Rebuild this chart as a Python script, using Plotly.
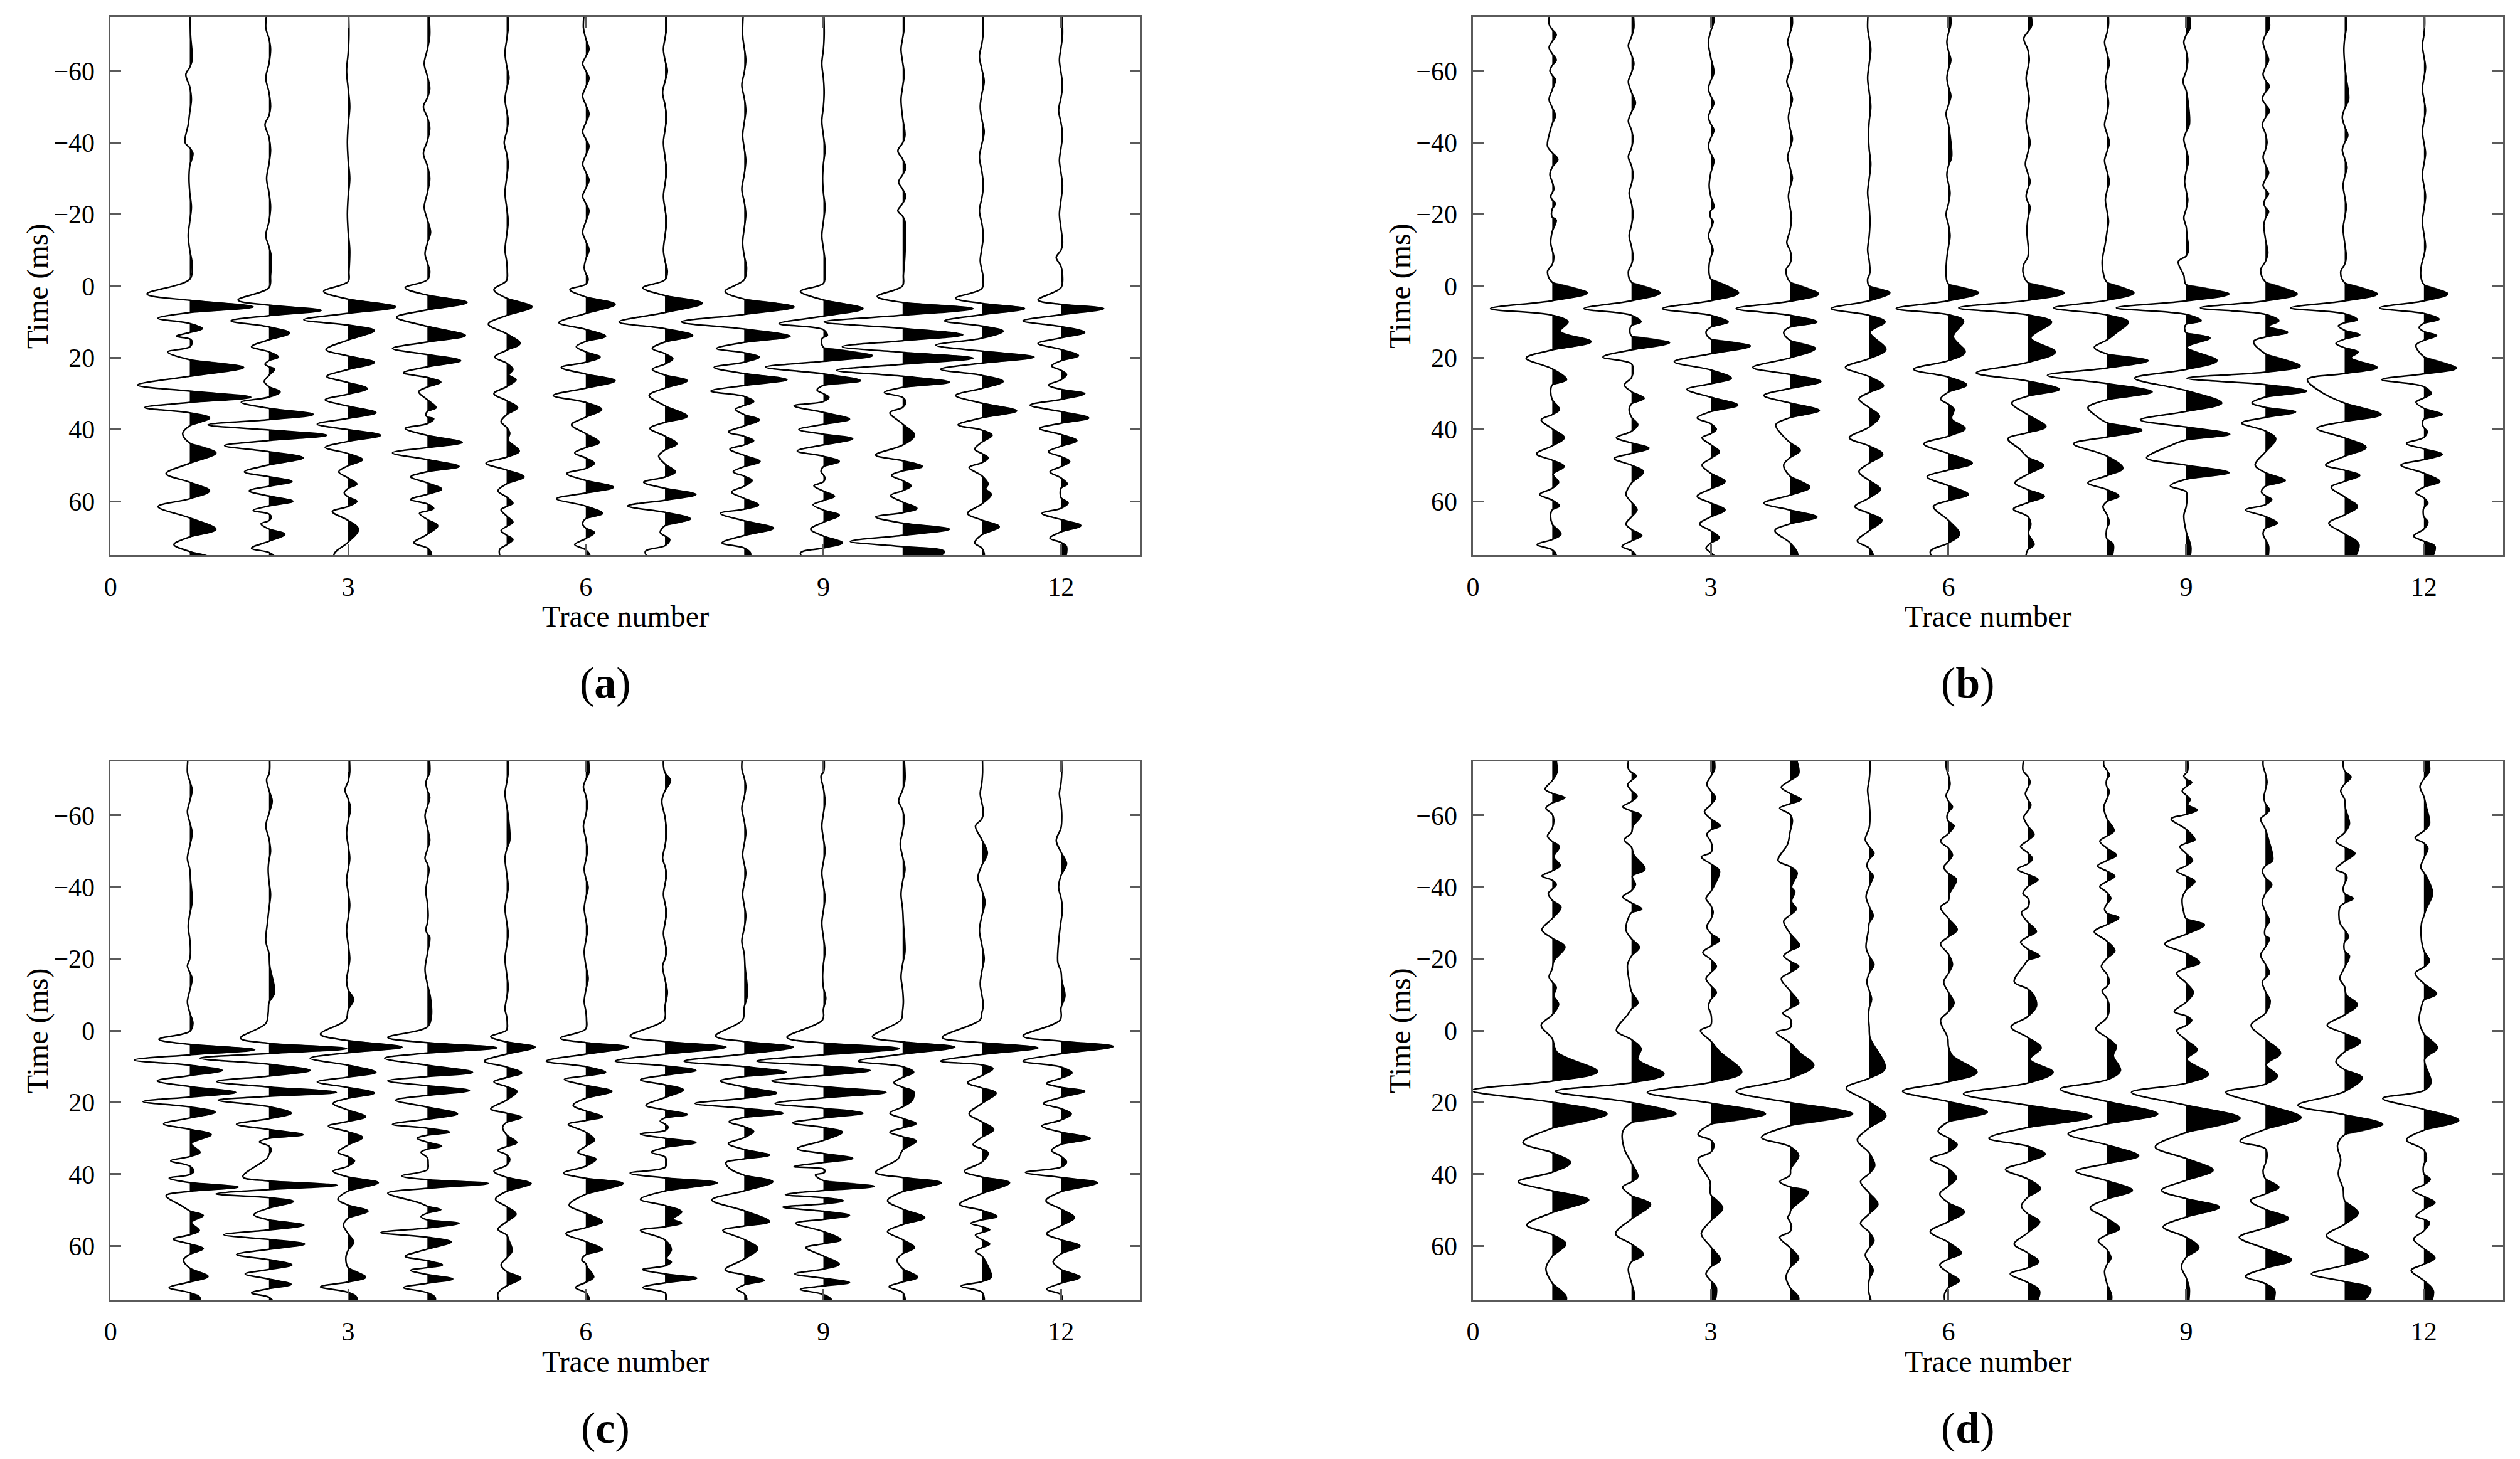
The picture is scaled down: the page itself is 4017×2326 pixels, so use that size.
import plotly.graph_objects as go

# ==== Data read off the wiggle sections ====
# every trace is a list of (time in ms, amplitude in trace units) extrema

trace_numbers = list(range(1, 13))
x_ticks = [0, 3, 6, 9, 12]
time_ticks = [-60, -40, -20, 0, 20, 40, 60]
panel_labels = ["a", "b", "c", "d"]

traces_a = [
    [(-70, .01), (-63, .03), (-59, -.05), (-52, .02), (-45, -.02), (-40, -.06), (-37, .04), (-30, -.01), (-22, .02), (-14, -.02), (-6, .03),
     (2.2, -.54), (5.8, .80), (9.0, -.40), (11.9, .16), (14.0, -.17), (15.5, .03), (18.4, -.28), (22.7, .68), (27.6, -.66), (31.0, .77),
     (33.9, -.57), (36.8, .25), (41.1, -.09), (46.5, .33), (52.3, -.30), (57.1, .25), (61.5, -.40), (67.8, .33), (72.1, -.20), (76, .27)],
    [(-72, -.04), (-66, .02), (-58, -.04), (-50, .02), (-45, -.05), (-38, .02), (-30, -.03), (-22, .02), (-14, -.04), (-8, .03), (-3, .02),
     (3.9, -.39), (6.8, .66), (9.7, -.48), (13.1, .26), (16.9, -.22), (19.8, .12), (21.8, -.05), (23.2, .07), (26.6, -.06), (29.5, .14),
     (32.4, -.35), (35.8, .56), (38.7, -.77), (41.6, .73), (44.5, -.56), (47.9, .43), (51.8, -.31), (54.5, .29), (57.1, -.25), (60.0, .30),
     (62.6, -.20), (64.5, .03), (66.3, -.10), (69.2, .20), (73.1, -.22), (75.5, .07)],
    [(-70, .01), (-60, -.02), (-50, .02), (-40, -.01), (-30, .02), (-20, -.01), (-10, .02), (-4, .01),
     (1.5, -.31), (5.8, .60), (9.4, -.56), (12.4, .33), (17.7, -.28), (21.3, .33), (25.2, -.27), (28.6, .24), (31.7, -.29), (35.3, .35),
     (38.5, -.39), (41.6, .41), (45.0, -.29), (48.4, .18), (51.8, -.12), (55.2, .11), (57.6, -.05), (60.0, .11), (62.9, -.20), (67.8, .13),
     (75, -.18)],
    [(-70, .03), (-62, -.04), (-55, .03), (-50, -.05), (-44, .03), (-37, -.05), (-30, .03), (-22, -.04), (-15, .04), (-9, -.03), (-4, .03),
     (0.5, -.28), (4.6, .50), (8.7, -.39), (13.8, .48), (17.4, -.44), (20.8, .42), (24.2, -.30), (26.8, .17), (29.5, -.11), (33.9, .11),
     (36.0, -.02), (37.0, .08), (39.7, -.28), (43.6, .44), (46.5, -.44), (50.3, .40), (53.2, -.21), (56.6, .18), (59.5, -.21), (62.0, .08),
     (63.4, -.10), (66.8, .13), (71.6, -.17), (74.5, .05)],
    [(-72, .02), (-65, -.02), (-58, .03), (-52, -.02), (-46, .02), (-40, -.03), (-34, .02), (-26, -.02), (-18, .02), (-10, -.02), (-4, .01),
     (1.0, -.16), (5.8, .32), (10.6, -.23), (16.0, .17), (19.8, -.15), (23.2, .08), (24.8, .03), (26.1, .12), (30.0, -.16), (33.9, .14),
     (37.8, -.07), (41.0, .04), (43.0, .02), (46.0, .16), (49.4, -.26), (53.2, .22), (57.1, -.11), (60.5, .08), (62.4, -.07), (65.8, .08),
     (68.2, -.07), (70.7, .08), (73.6, -.09)],
    [(-72, -.03), (-66, .04), (-62, -.04), (-58, .04), (-53, -.04), (-48, .04), (-43, -.04), (-39, .04), (-34, -.04), (-29.5, .04),
     (-25, -.04), (-21, .04), (-15, -.04), (-10, .04), (-5, -.02), (-2, .03),
     (1.0, -.20), (5.1, .37), (10.2, -.34), (14.0, .25), (16.9, -.12), (19.8, .18), (22.7, -.31), (26.4, .37), (30.5, -.41), (34.4, .20),
     (38.7, -.18), (43.6, .17), (46.5, -.14), (49.4, .11), (52.3, -.24), (56.1, .35), (59.3, -.37), (63.4, .21), (66.3, -.04), (68.7, .11),
     (72.1, -.14), (75, .05)],
    [(-72, .02), (-66, -.02), (-60, .03), (-54, -.03), (-47, .02), (-40, -.02), (-32, .02), (-25, -.02), (-18, .02), (-10, -.02), (-4, .03),
     (0.5, -.28), (4.8, .47), (10.0, -.58), (13.8, .35), (17.4, -.16), (20.3, .10), (23.2, -.16), (26.4, .28), (30.5, -.20), (36.3, .28),
     (39.7, -.19), (44.0, .15), (47.4, -.08), (51.8, .13), (54.7, -.27), (58.1, .39), (61.3, -.47), (64.9, .32), (68.7, -.06), (70.7, .06),
     (74.1, -.25)],
    [(-70, -.02), (-63, .02), (-56, -.03), (-49, .02), (-42, -.02), (-35, .02), (-27, -.03), (-20, .02), (-12, -.02), (-5, .03),
     (1.5, -.24), (5.8, .63), (10.0, -.79), (14.0, .58), (17.4, -.35), (19.8, .19), (22.7, -.38), (26.1, .54), (29.3, -.42), (32.2, .12),
     (34.4, -.11), (37.3, .19), (40.7, -.20), (43.1, .12), (45.5, -.18), (48.9, .20), (51.8, -.14), (54.2, .10), (57.4, -.16), (61.0, .18),
     (63.4, -.30), (67.5, .37), (71.6, -.28), (74.5, .08)],
    [(-70, .01), (-62, -.02), (-54, .01), (-46, -.02), (-38, .02), (-30, -.01), (-22, .02), (-14, -.02), (-7, .02), (-3, .02),
     (1.5, -.29), (6.3, .50), (10.5, -.56), (13.8, .05), (14.8, -.02), (19.4, .62), (22.6, -.73), (26.4, .47), (29.0, -.08), (31.0, .07),
     (33.4, -.37), (37.1, .33), (40.0, -.31), (42.6, .37), (46.0, -.33), (48.9, .20), (51.8, -.03), (53.5, .02), (55.7, -.12), (58.6, .14),
     (61.0, -.13), (63.9, .20), (67.8, -.16), (71.6, .24), (74.5, -.29)],
    [(-72, .02), (-66, -.02), (-59, .02), (-52, -.02), (-42, .03), (-37.7, -.06), (-33, .04), (-29, -.05), (-25, .04), (-21, -.06),
     (-18, .03), (-9, .03), (-3, .01),
     (2.9, -.32), (6.3, .89), (10.0, -.99), (13.6, .76), (16.9, -.76), (20.1, .89), (23.5, -.83), (26.8, .59), (29.7, -.23), (32.4, .04),
     (35.3, -.16), (41.6, .15), (47.1, -.34), (50.3, .25), (52.8, -.14), (55.7, .11), (58.4, -.15), (62.0, .18), (64.4, -.34), (67.8, .59),
     (71.2, -.66), (74.1, .53)],
    [(-71, .02), (-64, -.03), (-57, .03), (-50, -.02), (-43, .03), (-36, -.03), (-28, .02), (-21, -.03), (-14, .02), (-7, -.02), (-2, .02),
     (3.4, -.33), (6.3, .54), (9.7, -.47), (12.6, .27), (16.5, -.58), (19.8, .66), (23.2, -.52), (26.6, .27), (30.5, -.33), (34.8, .44),
     (38.7, -.30), (41.6, .13), (45.5, -.09), (47.9, .08), (50.6, -.16), (55.2, .08), (56.5, .05), (58.1, .12), (63.4, -.18), (67.1, .22),
     (71.6, -.09), (74.5, .03)],
    [(-70, .02), (-63, -.02), (-56, .02), (-49, -.03), (-42, .02), (-35, -.02), (-28, .02), (-20, -.02), (-12, .02), (-8, -.06), (-3, .02),
     (3.9, -.29), (6.3, .54), (9.7, -.48), (12.9, .30), (16.0, -.29), (19.4, .22), (22.3, -.12), (24.7, .07), (27.6, -.16), (30.0, .30),
     (33.2, -.39), (36.8, .35), (39.7, -.27), (43.1, .20), (46.2, -.16), (48.9, .11), (51.8, -.14), (55.2, .08), (57.5, -.01), (60.5, .09),
     (63.4, -.24), (66.8, .25), (70.3, -.14), (72.7, .07)],
]

traces_b = [
    [(-73, -.04), (-70, .05), (-66.5, -.04), (-63, .05), (-60, -.03), (-57.5, .04), (-52, -.04), (-47.5, .04), (-43, -.03), (-39, -.06),
     (-35.3, .07), (-31, -.03), (-27, .02), (-25, -.02), (-23, .04), (-20, -.01), (-18.4, .05), (-12, -.02), (-8, .02), (-4, -.06),
     (1.9, .44), (6.3, -.78), (10.0, .20), (12.6, .10), (15.5, .49), (20.1, -.33), (26.1, .18), (29, -.02), (34.4, .09), (37.3, -.14),
     (42.3, .15), (46.8, -.20), (50.3, .15), (52.5, .01), (54.7, .08), (58.1, -.16), (61.3, .09), (63.5, -.02), (69.2, .11), (72.1, -.19),
     (75, .05)],
    [(-72, .03), (-67, -.04), (-62, .03), (-57, -.04), (-51, .05), (-46, -.04), (-41, .02), (-36, -.04), (-31, .02), (-26, -.03),
     (-20, .02), (-14, -.03), (-8, .02), (-4, -.04),
     (1.9, .36), (6.3, -.60), (10.0, .12), (12.0, -.02), (15.8, .48), (19.8, -.36), (23.5, .02), (27.6, -.09), (31.3, .16), (34.4, -.03),
     (38.7, .08), (42.3, -.19), (45.2, .22), (48.1, -.22), (51.8, .15), (58.1, -.07), (62.4, .07), (66.3, -.07), (69.5, .13), (72.6, -.12),
     (75, .05)],
    [(-74, .04), (-68, -.03), (-59.5, .04), (-55, -.03), (-51, .04), (-47, -.03), (-43.5, .04), (-39, -.03), (-35, .04), (-28, -.02),
     (-22, .04), (-20, -.01), (-18, .03), (-14, -.03), (-10, .03), (-6, -.02),
     (1.9, .35), (6.3, -.61), (10.0, .22), (12.9, -.06), (16.7, .50), (21.1, -.46), (25.7, .26), (28.8, -.30), (33.2, .34), (36.8, -.17),
     (40.0, .07), (42.3, -.11), (46.2, .11), (49.9, -.11), (54.5, .18), (58.6, -.17), (62.4, .18), (66.3, -.14), (70.2, .11), (73.1, -.06),
     (75.5, .05)],
    [(-73, .03), (-68, -.03), (-63, .03), (-57, -.04), (-52, .03), (-47, -.02), (-41, .03), (-36, -.03), (-30, .03), (-25, -.02),
     (-19, .02), (-12, -.04), (-8, .02), (-4.5, -.05),
     (2.2, .36), (6.3, -.68), (10.0, .34), (12.9, -.08), (17.4, .32), (22.7, -.47), (26.6, .39), (30.5, -.33), (34.7, .37), (38.7, -.18),
     (41.5, -.10), (45.8, .13), (49.9, -.08), (56.1, .25), (60.5, -.33), (64.4, .34), (68.2, -.19), (75, .10)],
    [(-72, -.02), (-66, .02), (-58, -.02), (-50, .02), (-42, -.01), (-34, .02), (-26, -.02), (-18, .01), (-10, -.02), (-4, .01), (-2, -.02),
     (1.9, .26), (6.3, -.48), (10.0, .20), (12.9, .01), (17.7, .21), (22.7, -.30), (27.8, .18), (31.5, -.13), (36.3, .13), (42.3, -.25),
     (46.9, .17), (51.8, -.13), (56.6, .14), (61.5, -.18), (65.3, .16), (71.1, -.15), (75, .05)],
    [(-73, .03), (-68, -.02), (-63, .03), (-58, -.02), (-53, .03), (-48, -.03), (-42, .02), (-36, .04), (-31, -.02), (-26, .02),
     (-20, -.03), (-14, .02), (-8, -.02), (-3, -.03),
     (1.9, .38), (6.3, -.66), (9.7, .19), (14.1, .06), (18.4, .21), (23.2, -.44), (27.6, .23), (31.5, -.10), (34.4, .07), (37.0, .04),
     (39.7, .21), (44.0, -.31), (49.4, .30), (53.2, -.27), (58.1, .25), (61.5, -.19), (69.2, .14), (74.1, -.23)],
    [(-72.6, .05), (-69, -.05), (-63, .02), (-58, -.02), (-52, .02), (-46, -.02), (-40, .03), (-34, -.03), (-29, .03), (-25, -.02),
     (-22, .03), (-15, -.01), (-10, .01), (-6, -.05), (-3.9, -.06),
     (1.9, .46), (6.1, -.87), (10.0, .30), (14.5, .04), (18.4, .35), (24.2, -.65), (28.8, .40), (32.6, -.20), (39.2, .23), (42.6, -.25),
     (45.5, -.10), (50.0, .20), (54.9, -.16), (58.6, .21), (62.2, -.18), (66.3, .04), (69, .01), (72.1, .08), (75, -.02)],
    [(-73, .02), (-68, -.03), (-62, .03), (-57, -.02), (-51, .02), (-45, -.03), (-40, .03), (-35, -.03), (-29, .03), (-24, -.02),
     (-18, .02), (-12, -.02), (-7, -.06), (-4, -.05),
     (1.9, .34), (6.1, -.67), (10.0, .27), (13.0, .12), (17.1, -.16), (20.8, .52), (24.9, -.75), (29.5, .57), (33.9, -.24), (36.0, -.15),
     (40.2, .44), (44.0, -.42), (50.8, .20), (54.9, -.24), (58.6, .15), (61.5, -.05), (66, .03), (69, -.01), (72.1, .08)],
    [(-72, .05), (-68, -.03), (-63, .02), (-57, -.04), (-52, .02), (-45, .04), (-41, -.03), (-35, .03), (-29, -.02), (-24, .02),
     (-19, -.03), (-14, .01), (-10, .03), (-6.8, -.10), (-3, -.03),
     (2.2, .54), (6.1, -.88), (9.7, .19), (11.6, -.02), (14.5, .30), (17.1, .01), (20.8, .39), (25.7, -.65), (32.6, .45), (37.3, -.58),
     (41.3, .55), (44.5, -.20), (47.9, -.50), (52.0, .54), (55.7, -.20), (59, .01), (64, -.03), (73, .06)],
    [(-72, .05), (-68, -.03), (-63, .04), (-59, -.03), (-55.7, .05), (-52.3, -.04), (-48.9, .05), (-45, -.04), (-40, .02), (-36, -.03),
     (-31.5, .04), (-28, -.03), (-25.7, .04), (-23, -.02), (-20.8, .04), (-17, -.02), (-9.2, .03), (-4.5, -.06),
     (2.2, .40), (6.1, -.82), (9.7, .17), (11.2, .04), (12.9, .28), (15.5, -.15), (22.3, .44), (25.7, -.99), (29.3, .52), (32.6, -.17),
     (35.1, .38), (38.2, -.30), (42.6, .13), (49.9, -.13), (54.2, .25), (57.4, -.05), (59.5, .08), (62.4, -.25), (66.1, .15), (69, -.03),
     (72.5, .04)],
    [(-72, .02), (-66, -.01), (-58, .02), (-52, .05), (-47, -.03), (-42, .04), (-38, -.03), (-33, .03), (-28, -.02), (-22, .02),
     (-16, -.02), (-8, .02), (-4, -.05),
     (2.2, .41), (6.1, -.68), (9.4, .16), (11.1, -.08), (13.6, .19), (16.0, -.11), (18.4, .17), (20.0, .08), (22.7, .41), (26.1, -.47),
     (29.5, -.30), (35.8, .46), (39.7, -.35), (45.0, .27), (49.9, -.24), (52.8, .19), (56.1, -.17), (61.5, .16), (66.1, -.20), (72.1, .18)],
    [(-73, .01), (-67, -.02), (-61, .02), (-55, -.02), (-49, .02), (-43, -.02), (-37, .02), (-31, -.02), (-25, .02), (-18, -.02),
     (-11, .02), (-6, -.03), (-3, -.04),
     (2.2, .30), (6.1, -.56), (9.2, .19), (11.6, -.06), (13.8, .16), (16.5, -.10), (22.9, .41), (26.1, -.53), (30.0, .09), (32.4, -.10),
     (35.8, .23), (38.5, -.02), (40.5, .04), (43.9, -.22), (46.9, .23), (49.9, -.29), (54.5, .20), (57.6, -.10), (60.5, .05), (63, -.01),
     (65.8, .05), (69.7, -.13), (72.6, .14)],
]

traces_c = [
    [(-72, -.03), (-67, .03), (-61, -.03), (-55, .03), (-48, -.03), (-42, .01), (-36, .03), (-29, -.02), (-22, .01), (-18, -.03),
     (-14.5, .03), (-8, -.03), (-2, .04),
     (2.4, -.39), (5.3, .82), (8.2, -.70), (11.1, .41), (14.0, -.41), (17.2, .58), (19.8, -.59), (22.7, .32), (26.0, -.33), (29.0, .27),
     (31.5, .02), (33.9, .13), (36.3, -.24), (39.2, .05), (41.1, -.26), (43.6, .61), (46.0, -.30), (49, -.09), (51.5, .17), (53.5, .02),
     (55.7, .12), (58.1, -.21), (60.8, .17), (63.9, -.08), (68.5, .23), (71.6, -.26), (74.5, .13)],
    [(-73, .01), (-70, -.03), (-64, .04), (-57, -.04), (-50, .02), (-45, -.01), (-38, .02), (-30, -.02), (-25, -.04), (-18, .01),
     (-10.6, .07), (-5, -.01), (-2, -.04),
     (2.1, -.36), (5.0, .98), (7.7, -.87), (11.1, .52), (14.2, -.66), (17.2, .85), (19.4, -.64), (23.0, .28), (26.1, -.41), (29.0, .43),
     (31.0, -.12), (33.4, .03), (35.5, -.02), (40.7, -.33), (43.1, .86), (45.5, -.67), (47.6, .31), (51.3, -.19), (54.2, .44), (56.9, -.57),
     (59.5, .45), (62.4, -.41), (65.3, .29), (67.8, -.30), (70.7, .28), (73.1, -.22), (75.5, .05)],
    [(-72, .02), (-67, -.04), (-62, .03), (-55, -.02), (-48, .02), (-42, -.02), (-35, .02), (-28, -.02), (-20, .02), (-14, -.02),
     (-8.7, .07), (-3, -.03),
     (1.0, -.35), (4.6, .68), (7.7, -.48), (11.6, .35), (14.3, -.39), (17.4, .33), (20.3, -.19), (24.0, .22), (26.6, -.25), (29.8, .18),
     (33.9, -.13), (36.3, .08), (39.2, -.19), (42.4, .38), (47.0, -.13), (50.3, .25), (54.2, -.06), (59.0, .07), (63.4, -.03), (68.7, .22),
     (71.4, -.35), (74.5, .11)],
    [(-72, .03), (-69, -.02), (-65, .03), (-60, -.03), (-53, .03), (-48, -.03), (-45, .02), (-39, -.02), (-32, .01), (-28, -.02),
     (-26, .03), (-17, -.03), (-9, .04), (-4, .05),
     (1.9, -.50), (4.8, .88), (7.7, -.54), (11.6, .57), (14.0, -.50), (16.7, .53), (19.4, -.40), (23.2, .38), (26.1, -.44), (28.3, .28),
     (30.0, -.13), (32.2, .18), (33.9, -.08), (37, .01), (40.5, -.32), (42.6, .77), (45.3, -.50), (48, -.10), (49.9, .17), (51.8, -.08),
     (53.7, .40), (56.3, -.59), (58.9, .30), (62.9, -.28), (65.3, .19), (66.8, -.21), (69.2, .32), (71.6, -.30), (74.5, .10)],
    [(-72, .02), (-66, -.02), (-60, .02), (-53, .04), (-48, -.02), (-40, .02), (-34, -.02), (-27, .02), (-20, -.02), (-12, .02),
     (-6, -.02), (-2, .01),
     (1.7, -.20), (4.6, .36), (8.5, -.28), (11.8, .19), (14.3, -.16), (16.9, .13), (21.8, -.20), (24.2, .19), (26.9, -.05), (31.2, .13),
     (33.4, -.11), (35.8, .04), (39.2, -.16), (42.6, .31), (47.0, -.14), (51.1, .12), (55.4, -.11), (58.5, .03), (61.4, .07), (65.3, -.07),
     (69.0, .18), (73.3, -.11)],
    [(-72, .04), (-68, -.03), (-63, .02), (-57, -.03), (-50, .02), (-45, -.02), (-40, .03), (-34, -.02), (-28, .02), (-22, -.02),
     (-14.5, .03), (-8, -.02), (-3, .01),
     (2.1, -.32), (4.6, .54), (8.5, -.50), (11.6, .25), (13.6, -.27), (16.9, .33), (20.8, -.16), (24.0, .21), (26.1, -.22), (30.5, .11),
     (33.9, -.10), (35.8, .13), (39.7, -.28), (42.6, .47), (48.6, -.21), (53.2, .21), (56.6, -.25), (61.0, .21), (63.9, -.05), (66, .02),
     (68.7, .10), (71.6, -.13), (74.5, .04)],
    [(-74, -.02), (-69.7, .07), (-64, -.04), (-55, .02), (-48, -.03), (-43.6, .02), (-38, -.02), (-33, .02), (-27, -.02), (-22, .02),
     (-18, -.03), (-10.6, .03), (-3, -.01),
     (1.5, -.44), (4.6, .77), (8.5, -.63), (11.1, .39), (13.7, -.31), (16.5, .23), (20.8, -.24), (23.4, .28), (25.2, -.06), (26.9, .04),
     (28.8, -.31), (31.2, .39), (33.9, -.17), (36.5, .02), (39.7, -.44), (42.4, .66), (47.0, -.31), (50.5, .21), (52.5, .10), (53.6, .21),
     (55.7, -.31), (61.0, .08), (63.5, .02), (64.5, .08), (66.6, -.28), (69.0, .40), (71.6, -.28), (74.5, .02)],
    [(-73, -.03), (-68, .02), (-62, -.03), (-55, .02), (-49, -.02), (-44, .02), (-38, -.02), (-32, .02), (-25, -.03), (-18, .01),
     (-10, .04), (-3, -.02),
     (1.5, -.36), (4.6, .62), (8.5, -.76), (11.6, .53), (14.0, -.30), (17.4, .41), (20.3, -.62), (23.0, .49), (25.4, -.19), (28.1, .12),
     (31.5, -.20), (34.7, .32), (36.8, -.23), (38.5, -.18), (42.1, .36), (47.2, -.41), (53.2, .32), (55.7, -.27), (60.7, .17), (66.6, -.24),
     (69.6, .25), (72.1, -.09), (74.5, .03)],
    [(-73, .01), (-71, -.03), (-64, .02), (-57, -.02), (-50, .02), (-44, -.02), (-37, .02), (-30, -.02), (-22, .02), (-15, -.01),
     (-9, .03), (-3, -.01),
     (1.9, -.46), (5.0, .96), (8.5, -.84), (11.1, .59), (14.0, -.65), (17.2, .79), (20.3, -.61), (23.0, .50), (25.7, -.39), (28.3, .24),
     (32.9, -.33), (35.6, .37), (37.9, -.37), (39.2, .02), (40.2, -.10), (43.4, .64), (45.7, -.48), (47.4, .25), (49.2, -.51), (51.5, .33),
     (53.7, -.35), (58.3, .22), (60.5, -.22), (65.1, .20), (67.8, -.36), (70.2, .33), (72.1, -.29), (75, .10)],
    [(-70, .03), (-64, -.05), (-59, .02), (-52, -.03), (-45, .03), (-38, -.02), (-30, .01), (-22, .03), (-15, -.02), (-8, .01), (-3, -.02),
     (1.7, -.38), (4.6, .66), (8.5, -.56), (11.6, .14), (14.5, -.11), (17.0, .14), (19.5, .12), (23.0, -.16), (25.9, .17), (28.3, -.16),
     (30.8, .17), (35.8, -.06), (39.5, -.34), (42.4, .49), (47.4, -.19), (52.1, .28), (56.0, -.19), (60.5, .15), (63.9, -.07), (68.7, .19),
     (71.4, -.17), (74.5, .03)],
    [(-72, .01), (-66, -.02), (-61, .02), (-57, -.08), (-49.5, .07), (-42.6, -.05), (-35.8, .04), (-28, -.03), (-20, .03), (-13, -.02),
     (-7, .02), (-3, -.02),
     (1.9, -.50), (4.8, .71), (8.5, -.52), (10.6, .14), (14.5, -.18), (17.4, .18), (23.2, -.16), (27.6, .15), (31.8, -.11), (34.1, .08),
     (39.2, -.22), (42.4, .35), (48.4, -.28), (51.8, .19), (53.7, -.14), (55.5, .10), (57, -.08), (59.5, .10), (61.5, -.08), (64, .04),
     (68.7, .12), (71.2, -.26), (74.5, .03)],
    [(-72, .01), (-66, -.02), (-60, .01), (-53, -.06), (-46.5, .07), (-40, -.03), (-34, .02), (-27, -.02), (-19, -.04), (-14, .01),
     (-9.7, .05), (-3, -.01),
     (1.5, -.48), (4.4, .66), (8.5, -.48), (11.8, .14), (14.7, -.18), (16.9, .30), (20.3, -.22), (23.2, .13), (26.6, -.24), (30.0, .37),
     (33.4, -.12), (36.6, .07), (39.5, -.45), (42.4, .46), (47.4, -.19), (52.1, .17), (56.6, -.18), (60.0, .24), (64.4, -.10), (68.7, .24),
     (72.1, -.18), (75, .02)],
]

traces_d = [
    [(-72.1, .06), (-67.3, -.09), (-64.9, .16), (-62, -.08), (-58.6, .02), (-54.2, -.06), (-51.3, .09), (-48.4, .02), (-46, .10),
     (-43.1, -.13), (-40.7, .05), (-38.2, -.05), (-34.4, .11), (-28.1, -.13), (-23.4, .16), (-19.4, .02), (-15, -.04), (-12.1, .05),
     (-9.7, .02), (-7.3, .08), (-1.5, -.14),
     (6, .06), (11.4, .57), (16.7, -1.02), (23.2, .69), (31.2, -.37), (36.8, .23), (42.1, -.43), (47.2, .46), (54.2, -.32), (59.5, .17),
     (66.3, -.08), (74.5, .18)],
    [(-73, -.04), (-71, .06), (-68.5, -.05), (-65.3, .07), (-62.4, -.11), (-60, .12), (-57, .02), (-53.2, -.09), (-49, .03), (-45, .17),
     (-43, .01), (-40.7, .05), (-37.3, -.11), (-33.9, .13), (-31.9, -.03), (-28, -.07), (-23.2, .10), (-18.4, -.05), (-14, -.03),
     (-7.7, .08), (-4.4, -.05), (0, -.19),
     (5, .12), (8, .08), (12.1, .41), (16.9, -.96), (23.2, .56), (28.1, -.11), (33, -.09), (40.7, .08), (43.6, -.11), (48.4, .24),
     (56.6, -.20), (62.4, .15), (66.5, -.04), (74, .04)],
    [(-73, .05), (-68.7, -.05), (-64.9, .06), (-61, -.08), (-57.1, .12), (-54.7, -.05), (-50.8, .02), (-48.4, -.12), (-44.5, .11),
     (-40.7, .05), (-36.8, -.06), (-33, .03), (-29, -.05), (-25.2, .11), (-21.8, -.10), (-17.9, .07), (-14.5, -.06), (-10.6, .07),
     (-6.7, -.03), (-3, .01), (0, -.13),
     (5.8, .11), (11.6, .39), (17.2, -.80), (23.2, .69), (29.0, -.16), (32, .04), (35.8, -.16), (42, -.01), (49.4, .15), (56.6, -.12),
     (63.9, .12), (67.8, -.06), (71.6, .07)],
    [(-71.6, .11), (-67.8, -.11), (-64.4, .14), (-62, -.13), (-58.6, .03), (-52, -.03), (-47.4, -.15), (-44, .09), (-40, .02),
     (-38.7, .06), (-36, .02), (-33.9, .08), (-30.5, -.08), (-23.7, .12), (-20.8, -.08), (-17.9, .11), (-14.5, -.11), (-7.7, .11),
     (-4.8, -.09), (-2, .02), (0.5, -.17),
     (6.3, .13), (9.7, .30), (16.9, -.68), (23.2, .79), (29.8, -.36), (34.8, .11), (38.5, .01), (42.1, -.13), (45.0, .23), (50, .01),
     (52, -.03), (54.5, .02), (57.6, -.13), (63.4, .11), (68.7, -.05), (74.5, .11)],
    [(-73, .01), (-67, -.02), (-60, .01), (-53.2, -.05), (-49.4, .06), (-46, -.03), (-43.1, .05), (-37.3, -.04), (-32, .05), (-28, -.01),
     (-23.2, -.04), (-18.4, .06), (-13.6, -.03), (-8.7, .03), (-4, -.01),
     (2, .01), (10.5, .20), (16.0, -.29), (23.7, .21), (30.5, -.15), (37.6, .07), (42.1, -.11), (48.4, .11), (53.7, -.11), (58.6, .06),
     (62.5, -.05), (66.8, .05), (72, -.01), (75, .02)],
    [(-73.6, -.03), (-68.7, .02), (-65.5, -.03), (-62.4, .05), (-59.5, -.02), (-57.1, .07), (-52.8, -.10), (-48.9, .05), (-45.5, -.06),
     (-42.1, .10), (-38, .01), (-34.4, -.10), (-28.1, .11), (-24.2, -.10), (-18.4, .05), (-13.6, -.06), (-7.7, .07), (-2.9, -.10),
     (2, -.01),
     (7, .05), (11.6, .36), (16.9, -.58), (22.7, .49), (28.1, -.13), (31.8, .11), (35.8, -.23), (41.1, .10), (45.5, -.11), (50.5, .20),
     (56.0, -.23), (62.0, .16), (65.3, -.11), (69.7, .14), (73.5, -.05)],
    [(-72.6, -.06), (-69.2, .03), (-66, -.03), (-62.9, .04), (-59.5, -.05), (-54.7, .08), (-51.3, -.09), (-47.9, .06), (-45, -.13),
     (-42.1, .13), (-38.2, -.06), (-35.8, .02), (-32.9, -.08), (-27.6, .11), (-24.7, -.09), (-20.8, .15), (-18.4, -.04), (-13.6, -.17),
     (-9.7, .08), (-6.8, .11), (-1.0, -.21),
     (4.8, .17), (8.0, .03), (11.6, .32), (17.6, -.81), (24.0, .81), (30.0, -.49), (34.4, .22), (38.7, -.28), (44.0, .16), (48.9, -.08),
     (53.2, .15), (59.5, -.17), (64.4, .14), (67.8, -.22), (72.6, .15)],
    [(-74, -.04), (-71.2, .03), (-69, -.01), (-66.8, .03), (-62.4, -.04), (-55.7, .09), (-52.8, -.09), (-48.9, .12), (-45.9, -.12),
     (-43, .10), (-40.2, -.09), (-36.8, .05), (-33.9, -.03), (-31.5, .15), (-27.6, -.16), (-22.3, .10), (-17.9, -.07), (-13.6, .03),
     (-11.1, -.06), (-6.8, .03), (-0.5, -.14),
     (4.4, .12), (7.0, .08), (11.1, .17), (16.3, -.59), (23.2, .64), (28.8, -.49), (34.9, .40), (39.2, -.39), (44.5, .32), (49.4, -.21),
     (55.2, .16), (58.6, -.11), (63.4, .05), (67, -.03), (74, .06)],
    [(-72.6, .02), (-71, -.03), (-69.2, .07), (-66.8, -.05), (-64.4, .05), (-63, .02), (-61.5, .14), (-59, -.19), (-53.2, .11),
     (-51.3, -.08), (-47.4, .08), (-44.5, -.12), (-41.6, .11), (-36.8, -.05), (-32.9, -.03), (-29.5, .23), (-24.2, -.27), (-18.9, .17),
     (-16, -.12), (-10.6, .09), (-5.3, -.15), (-2.9, .07), (0, -.12),
     (5.3, .14), (8.0, .01), (12.1, .28), (17.2, -.69), (24.4, .68), (32.4, -.39), (38.9, .34), (44.5, -.31), (49.2, .42), (54.7, -.29),
     (60.5, .16), (65.8, -.06), (72, .04)],
    [(-74, -.03), (-69.2, .02), (-65, -.02), (-61.5, .05), (-59, -.06), (-53.2, .04), (-47.4, .09), (-44.5, -.04), (-40.7, .08),
     (-35.8, -.04), (-30.5, .05), (-27, -.01), (-25.7, .05), (-21, -.06), (-16, .05), (-13.6, -.04), (-8.2, .06), (-1.5, -.18),
     (6.3, .19), (9.5, .01), (12.6, .15), (17.2, -.50), (24.2, .45), (30.8, -.32), (35, .02), (39, -.03), (43.6, .17), (47.4, -.19),
     (52.3, .29), (57.6, -.33), (63.9, .33), (68.5, -.25), (72.6, .12)],
    [(-74, -.02), (-70.7, .08), (-66.8, -.05), (-62, .01), (-57.6, .06), (-52.8, -.11), (-49.4, .13), (-45, -.11), (-42.6, .03),
     (-39.5, -.02), (-36.8, .11), (-34.4, -.06), (-30, -.06), (-26.1, .05), (-23.5, -.01), (-20.8, .06), (-14.5, -.06), (-10, .02),
     (-7.3, .16), (-1.5, -.22),
     (3.1, .20), (8.7, -.11), (13.1, .22), (20.8, -.59), (26.1, .48), (31.9, -.09), (36, -.05), (40, -.08), (44, -.02), (50.8, .17),
     (57.1, -.23), (62.9, .30), (67.8, -.42), (72.1, .33)],
    [(-72.4, .07), (-68, -.05), (-62.4, .03), (-57.6, .07), (-53.7, -.11), (-50.8, .05), (-45.5, -.04), (-42.6, .04), (-38.2, .11),
     (-34, .03), (-30, -.03), (-25, -.03), (-19.4, .07), (-16, -.11), (-10.2, .16), (-6.8, -.03), (-2.9, -.06),
     (4.8, .17), (8.0, .01), (14.5, .09), (18.9, -.52), (25.0, .44), (30.5, -.22), (36, .03), (38.5, -.01), (41.4, .08), (44.5, -.14),
     (47.9, .14), (51.7, -.10), (53.5, .07), (58.1, -.13), (63.4, .14), (66.8, -.16), (72.6, .12)],
]

all_panels = [traces_a, traces_b, traces_c, traces_d]

# ==== Geometry of the 2x2 grid (paper fractions) ====
# the page body adds an 8 px margin, the domains are shifted to make up for it
FONT = "Liberation Serif"
col_x = [[0.0395, 0.4491], [0.5815, 0.9913]]
row_y = [[0.6230, 0.9918], [0.1126, 0.4815]]


def curve_points(events, start=-80.0, end=80.0):
    # extrema plus the baseline crossings between extrema of opposite sign
    pts = [(start, 0.0)]
    prev = None
    for t, a in events:
        if prev is not None and (prev[1] > 0) != (a > 0):
            pts.append(((prev[0] + t) / 2.0, 0.0))
        pts.append((t, a))
        prev = (t, a)
    pts.append((end, 0.0))
    return pts


fig = go.Figure()

for p, traces in enumerate(all_panels):
    sfx = "" if p == 0 else str(p + 1)
    for n, events in zip(trace_numbers, traces):
        pts = curve_points(events)
        # black fill of the positive lobes
        fx, fy = [], []
        i = 0
        while i < len(pts):
            if pts[i][1] > 0:
                j = i
                while j < len(pts) and pts[j][1] > 0:
                    j += 1
                lobe = [pts[i - 1]] + pts[i:j] + [pts[j]]
                fx += [n + a for t, a in lobe] + [None]
                fy += [t for t, a in lobe] + [None]
                i = j
            else:
                i += 1
        fig.add_trace(go.Scatter(
            x=fx, y=fy, mode="lines", fill="toself", fillcolor="black",
            line=dict(color="black", width=0.5, shape="spline", smoothing=1),
            xaxis="x" + sfx, yaxis="y" + sfx, showlegend=False, hoverinfo="skip"))
        # the wiggle itself
        fig.add_trace(go.Scatter(
            x=[n + a for t, a in pts], y=[t for t, a in pts], mode="lines",
            line=dict(color="black", width=2.5, shape="spline", smoothing=1),
            xaxis="x" + sfx, yaxis="y" + sfx, showlegend=False, hoverinfo="skip"))

axis_style = dict(
    showline=True, mirror="ticks", linecolor="#5a5a5a", linewidth=2.5,
    ticks="inside", ticklen=17, tickwidth=2.5, tickcolor="#5a5a5a",
    showgrid=False, zeroline=False,
    tickfont=dict(family=FONT, size=42, color="black"),
)

layout = dict(
    width=4017, height=2326, autosize=False,
    margin=dict(l=0, r=0, t=0, b=0),
    paper_bgcolor="white", plot_bgcolor="white",
    showlegend=False,
)

annotations = []
for p in range(4):
    sfx = "" if p == 0 else str(p + 1)
    cx = col_x[p % 2]
    ry = row_y[p // 2]
    layout["xaxis" + sfx] = dict(
        axis_style, domain=cx, range=[0, 13], tickvals=x_ticks,
        anchor="y" + sfx, ticklabelstandoff=12)
    layout["yaxis" + sfx] = dict(
        axis_style, domain=ry, range=[75, -75], tickvals=time_ticks,
        anchor="x" + sfx, ticklabelstandoff=14)
    mid_x = (cx[0] + cx[1]) / 2
    annotations.append(dict(
        text="Trace number", x=mid_x, y=ry[0] - 0.0421, xref="paper", yref="paper",
        xanchor="center", yanchor="middle", showarrow=False,
        font=dict(family=FONT, size=48, color="black")))
    annotations.append(dict(
        text="Time (ms)", x=cx[0] - 0.0290, y=(ry[0] + ry[1]) / 2, xref="paper", yref="paper",
        xanchor="center", yanchor="middle", showarrow=False, textangle=-90,
        font=dict(family=FONT, size=48, color="black")))
    annotations.append(dict(
        text="(<b>" + panel_labels[p] + "</b>)", x=mid_x - 0.008, y=ry[0] - 0.0877,
        xref="paper", yref="paper", xanchor="center", yanchor="middle", showarrow=False,
        font=dict(family=FONT, size=70, color="black")))

layout["annotations"] = annotations
fig.update_layout(**layout)

fig.write_html("out.html")
